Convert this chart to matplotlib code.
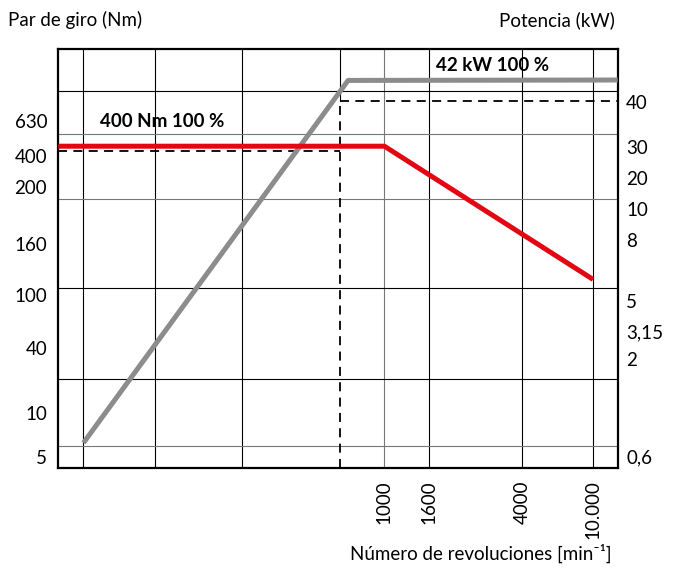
import matplotlib
matplotlib.use("Agg")
import matplotlib.pyplot as plt

plt.rcParams['font.family'] = ['Lato', 'DejaVu Sans']

# chart units: 0..100 across the drawing box (schematic chart, irregular scales)
# torque curve (red) and power curve (grey)
torque_x = [0, 58.3, 95.6]
torque_y = [76.8, 76.8, 45.0]
power_x = [4.5, 51.8, 100]
power_y = [6.0, 92.5, 92.6]

# dashed reference lines (100 % levels)
torque_ref = 75.7
power_ref = 87.5
ref_x = 50.4

# grid
vgrid = [4.47, 17.34, 32.89, 58.28, 66.32, 82.89, 95.53]
vgrid_col = ['k', 'k', 'k', '#777777', 'k', 'k', 'k']
hgrid = [90.05, 79.71, 64.13, 43.03, 21.24, 5.18]
hgrid_col = ['k', '#777777', '#777777', 'k', 'k', '#777777']

# tick labels
left_labels = ['630', '400', '200', '160', '100', '40', '10', '5']
left_pos = [82.9, 74.5, 67.1, 53.5, 41.3, 28.7, 13.2, 2.7]
right_labels = ['40', '30', '20', '10', '8', '5', '3,15', '2', '0,6']
right_pos = [87.4, 76.5, 69.3, 61.8, 54.4, 39.9, 32.5, 25.9, 2.7]
rpm_labels = ['1000', '1600', '4000', '10.000']
rpm_pos = [58.28, 66.32, 82.89, 95.53]

fs = 13.5

fig = plt.figure(figsize=(6.78, 5.71), dpi=100)
ax = fig.add_axes([58.3 / 678, 1 - 468 / 571, 559.4 / 678, 419 / 571])
ax.set_xlim(0, 100)
ax.set_ylim(0, 100)

for x, c in zip(vgrid, vgrid_col):
    ax.axvline(x, color=c, lw=0.8, zorder=1)
ax.plot([ref_x, ref_x], [power_ref, 100], color='k', lw=0.8, zorder=1)
for y, c in zip(hgrid, hgrid_col):
    ax.axhline(y, color=c, lw=0.8, zorder=1)

dash = dict(color='k', lw=1.3, ls=(0, (5, 3.5)), zorder=2)
ax.plot([0, ref_x], [torque_ref, torque_ref], **dash)
ax.plot([ref_x, 100], [power_ref, power_ref], **dash)
ax.plot([ref_x, ref_x], [0, power_ref], **dash)

ax.plot(power_x, power_y, color='#8c8c8c', lw=3.6, solid_capstyle='butt', zorder=3)
ax.plot(torque_x, torque_y, color='#e30613', lw=3.6, solid_capstyle='butt', zorder=4)

ax.text(7.5, 82.7, '400 Nm 100 %', fontsize=fs, fontweight='bold', va='center', ha='left')
ax.text(67.5, 96.1, '42 kW 100 %', fontsize=fs, fontweight='bold', va='center', ha='left')

for s in ax.spines.values():
    s.set_linewidth(1.6)

ax.set_yticks(left_pos)
ax.set_yticklabels(left_labels, fontsize=fs)
ax.set_xticks(rpm_pos)
ax.set_xticklabels(rpm_labels, fontsize=fs, rotation=90)
ax.tick_params(axis='x', length=0, pad=9)
ax.tick_params(axis='y', length=0, pad=8)

ax2 = ax.twinx()
ax2.set_ylim(0, 100)
ax2.set_yticks(right_pos)
ax2.set_yticklabels(right_labels, fontsize=fs)
ax2.tick_params(axis='y', length=0, pad=6)
for s in ax2.spines.values():
    s.set_visible(False)

fig.text(8 / 678, 1 - 20 / 571, 'Par de giro (Nm)', fontsize=fs, ha='left', va='center')
fig.text(615 / 678, 1 - 20 / 571, 'Potencia (kW)', fontsize=fs, ha='right', va='center')
fig.text(612 / 678, 1 - 553 / 571, 'Número de revoluciones [min⁻¹]', fontsize=fs,
         ha='right', va='center')

fig.savefig('out.png', dpi=100)
